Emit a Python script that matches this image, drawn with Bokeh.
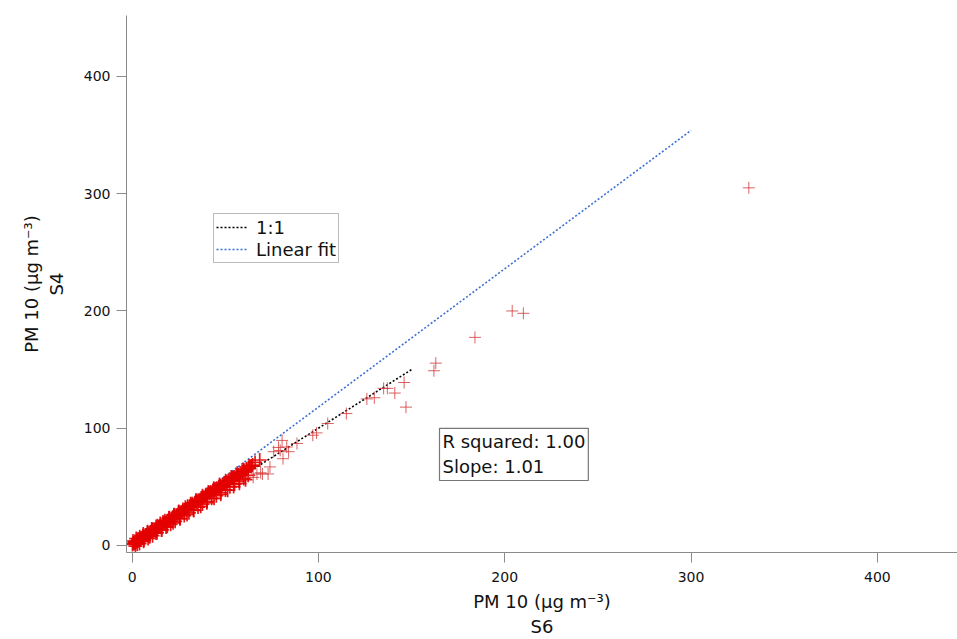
from bokeh.plotting import figure
from bokeh.models import Range1d, Legend, LegendItem, Label, FixedTicker
from bokeh.embed import file_html
from bokeh.resources import INLINE

# dense band of points (S6, S4)
band_x = [0.2, 0.7, 1.1, 1.6, 2.0, 2.5, 3.0, 3.4, 3.9, 4.5, 5.0, 5.6, 6.1, 6.7, 7.3, 7.9, 8.5, 9.1, 9.8, 10.4,
          11.1, 11.8, 12.5, 13.2, 13.9, 14.7, 15.4, 16.2, 17.0, 17.8, 18.6, 19.4, 20.2, 21.1, 21.9, 22.8, 23.6, 24.5, 25.4, 26.3,
          27.2, 28.1, 29.0, 29.9, 30.9, 31.8, 32.7, 33.7, 34.6, 35.6, 36.5, 37.5, 38.5, 39.4, 40.4, 41.4, 42.4, 43.4, 44.4, 45.4,
          46.4, 47.5, 48.5, 49.5, 50.6, 51.6, 52.7, 53.7, 54.8, 55.9, 56.9, 58.0, 59.1, 60.2, 61.3, 62.4, 63.6, 64.7]
band_y = [0.9, 1.6, 1.8, 2.6, 2.7, 3.5, 3.9, 4.2, 5.0, 5.4, 6.3, 6.6, 7.4, 7.8, 8.7, 9.0, 9.9, 10.4, 11.0, 11.9,
          12.4, 13.4, 13.8, 14.9, 15.3, 16.5, 16.9, 17.8, 18.9, 19.4, 20.6, 21.0, 22.3, 22.8, 24.0, 24.6, 25.7, 26.3, 27.6, 28.3,
          29.4, 30.3, 31.2, 32.4, 33.2, 34.5, 35.0, 36.4, 37.1, 38.5, 39.0, 40.6, 41.2, 42.4, 43.4, 44.7, 45.3, 46.8, 47.4, 48.9,
          49.5, 51.0, 51.7, 53.1, 54.0, 55.2, 56.1, 57.4, 58.3, 59.6, 60.4, 61.9, 62.6, 64.2, 64.9, 66.3, 67.5, 68.6]
upper_x = [1.5, 3.2, 5.8, 8.2, 10.9, 13.6, 16.6, 19.8, 22.5, 25.1, 28.6, 31.4, 34.2, 37.8, 40.9, 43.8, 46.9, 50.2, 53.2, 56.4, 59.6, 62.8, 66.0, 68.5]
upper_y = [3.4, 5.5, 8.2, 11.0, 13.9, 16.8, 20.0, 23.4, 26.3, 28.9, 32.6, 35.6, 38.5, 42.3, 45.6, 48.7, 51.9, 55.3, 58.3, 61.5, 64.7, 67.8, 70.8, 72.9]
lower_x = [2.8, 6.4, 9.5, 12.8, 15.9, 18.9, 22.0, 25.8, 29.5, 33.1, 36.9, 40.1, 44.0, 47.6, 51.3, 54.5, 57.6, 60.9]
lower_y = [1.2, 4.6, 7.5, 10.6, 13.5, 16.3, 19.3, 22.9, 26.4, 29.8, 33.4, 36.5, 40.2, 43.6, 47.1, 50.2, 53.0, 56.1]
edge_hi_x = [0.5, 2.2, 4.1, 6.0, 8.3, 10.5, 12.9, 15.1, 17.6, 20.0, 22.4, 24.9, 27.3, 29.8, 32.2, 34.7, 37.1, 39.6, 42.0, 44.5,
             46.9, 49.4, 51.8, 54.3, 56.7, 59.2, 61.6, 64.1]
edge_hi_y = [3.8, 5.9, 7.4, 9.7, 11.6, 14.1, 16.2, 18.8, 21.0, 23.6, 25.8, 28.5, 30.7, 33.4, 35.6, 38.3, 40.5, 43.2, 45.4, 48.1,
             50.3, 53.0, 55.2, 57.9, 60.1, 62.8, 65.0, 67.7]
edge_lo_x = [1.8, 4.0, 6.2, 8.6, 11.0, 13.4, 15.8, 18.2, 20.7, 23.1, 25.6, 28.0, 30.5, 32.9, 35.4, 37.8, 40.3, 42.7, 45.2, 47.6,
             50.1, 52.5, 55.0, 57.4, 59.9, 62.3]
edge_lo_y = [-0.6, 1.6, 3.5, 6.0, 8.3, 10.9, 13.1, 15.7, 18.0, 20.6, 22.9, 25.5, 27.8, 30.4, 32.7, 35.3, 37.6, 40.2, 42.5, 45.1,
             47.4, 50.0, 52.3, 54.9, 57.2, 59.8]
# scattered points above ~65
out_x = [65, 67, 69, 70, 73, 74, 76, 78.6, 79.5, 80.5, 81, 83, 84, 88.5, 97, 99, 105, 115, 126, 130, 135, 137, 141, 146, 147,
         162, 163, 184, 204, 210, 331]
out_y = [58, 61, 62, 61, 61, 67, 80, 83.6, 81, 89.6, 74, 84, 80, 87, 94, 96, 104, 112.5, 125, 126, 134, 134, 130, 139, 118,
         149, 155.5, 177.5, 200, 198, 305]

# reference lines
one_x = [0, 150]
one_y = [0, 150]
fit_x = [0, 300]
fit_y = [0, 354]

x_ticks = [0, 100, 200, 300, 400]
y_ticks = [0, 100, 200, 300, 400]

FONT = "DejaVu Sans"

p = figure(width=957, height=639, x_range=Range1d(-3, 443), y_range=Range1d(-6, 452),
           output_backend="svg", toolbar_location=None,
           min_border_left=126, min_border_right=0, min_border_top=15, min_border_bottom=87)
p.outline_line_color = None
p.xgrid.visible = False
p.ygrid.visible = False
p.background_fill_color = "white"
p.border_fill_color = "white"

for ax, ticks in ((p.xaxis[0], x_ticks), (p.yaxis[0], y_ticks)):
    ax.ticker = FixedTicker(ticks=ticks)
    ax.minor_tick_line_color = None
    ax.major_tick_out = 10
    ax.major_tick_in = 0
    ax.axis_line_color = "#8a8a8a"
    ax.major_tick_line_color = "#8a8a8a"
    ax.major_label_text_font = FONT
    ax.major_label_text_font_size = "14px"
    ax.major_label_text_color = "#111111"
    ax.axis_label_text_font = FONT
    ax.axis_label_text_font_size = "18px"
    ax.axis_label_text_font_style = "normal"
    ax.axis_label_text_color = "#111111"
p.xaxis.major_label_standoff = 9
p.yaxis.major_label_standoff = 6

p.xaxis.axis_label = "PM 10 (μg m⁻³)\nS6"
p.yaxis.axis_label = "PM 10 (μg m⁻³)\nS4"
p.xaxis.axis_label_standoff = 6
p.yaxis.axis_label_standoff = 14

# lines first, points on top
r1 = p.line(one_x, one_y, line_color="black", line_width=1.6, line_dash="2 2")
r2 = p.line(fit_x, fit_y, line_color="#3b6fd4", line_width=1.6, line_dash="2 2")

red = "#e30000"
for xs, ys in ((band_x, band_y), (upper_x, upper_y), (lower_x, lower_y), (edge_hi_x, edge_hi_y), (edge_lo_x, edge_lo_y)):
    p.scatter(xs, ys, marker="cross", size=14, line_color=red, line_width=1.7, line_alpha=0.9)
p.scatter(out_x, out_y, marker="cross", size=12, line_color="#d23a3a", line_width=1, line_alpha=0.8)

legend = Legend(items=[LegendItem(label="1:1", renderers=[r1]),
                       LegendItem(label="Linear fit", renderers=[r2])],
                location=(87, 289), orientation="vertical",
                label_text_font=FONT, label_text_font_size="18px", label_text_color="#111111",
                glyph_width=32, glyph_height=22, label_height=22, label_standoff=8,
                padding=2, spacing=0, margin=0,
                border_line_color="#777777", border_line_width=1.2,
                background_fill_color="white", background_fill_alpha=1)
p.add_layout(legend, "center")

stats = Label(x=313, y=72, x_units="screen", y_units="screen",
              text="R squared: 1.00\nSlope: 1.01",
              text_font=FONT, text_font_size="18px", text_color="#111111",
              text_align="left", text_baseline="bottom", padding=3,
              border_line_color="#777777", border_line_width=1.2,
              background_fill_color="white")
p.add_layout(stats)

open("out.html", "w").write(file_html(p, INLINE))
